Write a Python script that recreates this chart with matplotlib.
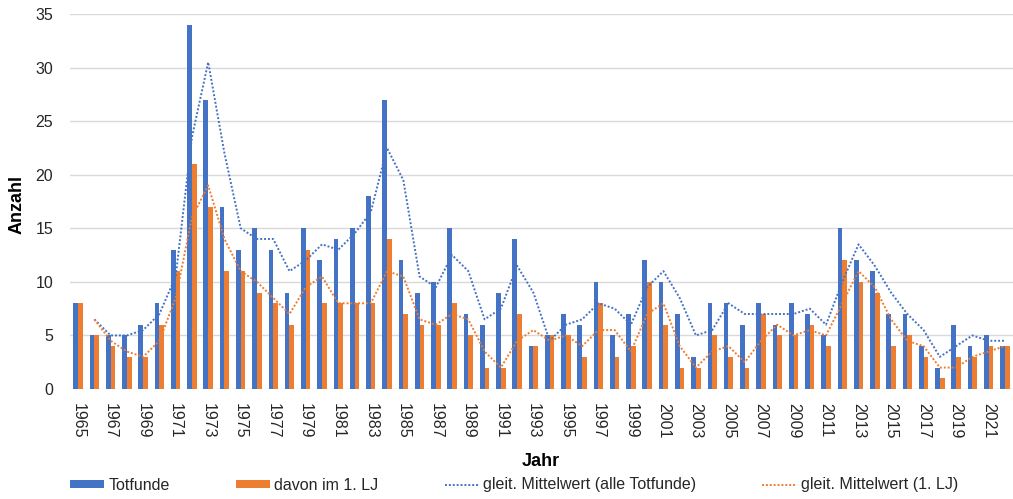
import matplotlib
matplotlib.use("Agg")
import matplotlib.pyplot as plt
import numpy as np

plt.rcParams['font.family'] = ['Liberation Sans', 'DejaVu Sans']

years = list(range(1965, 2023))
totfunde = [8, 5, 5, 5, 6, 8, 13, 34, 27, 17, 13, 15, 13, 9, 15, 12, 14, 15, 18, 27,
            12, 9, 10, 15, 7, 6, 9, 14, 4, 5, 7, 6, 10, 5, 7, 12, 10, 7, 3, 8,
            8, 6, 8, 6, 8, 7, 5, 15, 12, 11, 7, 7, 4, 2, 6, 4, 5, 4]
erstes_lj = [8, 5, 4, 3, 3, 6, 11, 21, 17, 11, 11, 9, 8, 6, 13, 8, 8, 8, 8, 14,
             7, 6, 6, 8, 5, 2, 2, 7, 4, 5, 5, 3, 8, 3, 4, 10, 6, 2, 2, 5,
             3, 2, 7, 5, 5, 6, 4, 12, 10, 9, 4, 5, 3, 1, 3, 3, 4, 4]
# gleitender Mittelwert (2 Jahre), ab 1966
ma_years = list(range(1966, 2023))
ma_totfunde = [6.5, 5, 5, 5.5, 7, 10.5, 23.5, 30.5, 22, 15, 14, 14, 11, 12, 13.5, 13,
               14.5, 16.5, 22.5, 19.5, 10.5, 9.5, 12.5, 11, 6.5, 7.5, 11.5, 9, 4.5,
               6, 6.5, 8, 7.5, 6, 9.5, 11, 8.5, 5, 5.5, 8, 7, 7, 7, 7, 7.5, 6, 10,
               13.5, 11.5, 9, 7, 5.5, 3, 4, 5, 4.5, 4.5]
ma_lj = [6.5, 4.5, 3.5, 3, 4.5, 8.5, 16, 19, 14, 11, 10, 8.5, 7, 9.5, 10.5, 8, 8, 8,
         11, 10.5, 6.5, 6, 7, 6.5, 3.5, 2, 4.5, 5.5, 4.5, 5, 4, 5.5, 5.5, 3.5, 7,
         8, 4, 2, 3.5, 4, 2.5, 4.5, 6, 5, 5.5, 5, 8, 11, 9.5, 6.5, 4.5, 4, 2, 2,
         3, 3.5, 4]
yticks = [0, 5, 10, 15, 20, 25, 30, 35]

BLUE = '#4472C4'
ORANGE = '#ED7D31'
TXT = '#262626'

W, H = 1013, 499
fig = plt.figure(figsize=(W / 100, H / 100), dpi=100)
ax = fig.add_axes([70 / W, 1 - 389 / H, (1013 - 70) / W, (389 - 14) / H])

x = np.arange(len(years))
bw = 0.29
b1 = ax.bar(x - bw / 2, totfunde, width=bw, color=BLUE, label='Totfunde', zorder=2)
b2 = ax.bar(x + bw / 2, erstes_lj, width=bw, color=ORANGE, label='davon im 1. LJ', zorder=2)

mx = np.array([years.index(y) for y in ma_years])
l1, = ax.plot(mx, ma_totfunde, color=BLUE, linestyle=(0, (1, 1)), linewidth=1.4,
              label='gleit. Mittelwert (alle Totfunde)', zorder=3)
l2, = ax.plot(mx, ma_lj, color=ORANGE, linestyle=(0, (1, 1)), linewidth=1.4,
              label='gleit. Mittelwert (1. LJ)', zorder=3)

ax.set_xlim(-0.5, len(years) - 0.5)
ax.set_ylim(0, 35)
ax.set_yticks(yticks)
ax.grid(axis='y', color='#d9d9d9', linewidth=1, zorder=0)
ax.set_axisbelow(True)
for s in ax.spines.values():
    s.set_visible(False)

ax.set_xticks(x[::2])
ax.set_xticklabels([str(y) for y in years[::2]], rotation=-90, fontsize=11.5, color=TXT)
ax.tick_params(axis='x', length=0, pad=10)
ax.tick_params(axis='y', length=0, pad=12, labelsize=11.5, labelcolor=TXT)

fig.text(17 / W, 1 - 204 / H, 'Anzahl', rotation=90, ha='center', va='center',
         fontsize=13, fontweight='bold', color='black')
fig.text(541 / W, 1 - 461 / H, 'Jahr', ha='center', va='center',
         fontsize=13, fontweight='bold', color='black')

handles = [b1, b2, l1, l2]
labels = [h.get_label() for h in handles]
leg = fig.legend(handles, labels, loc='center left', bbox_to_anchor=(70 / W, 1 - 485 / H),
                 ncol=4, frameon=False, fontsize=11.5, handlelength=2.15,
                 handleheight=0.45, handletextpad=0.25, columnspacing=4.15,
                 borderaxespad=0, borderpad=0)
for t in leg.get_texts():
    t.set_color(TXT)

fig.savefig('out.png', dpi=100)
